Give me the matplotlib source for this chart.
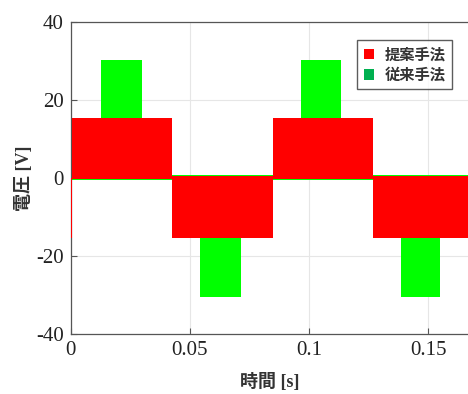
import matplotlib
matplotlib.use('Agg')
import matplotlib.pyplot as plt
from matplotlib.patches import Patch
import numpy as np

plt.rcParams['axes.unicode_minus'] = False

# ---------------- waveform segments ---------------- #
# proposed method: two-level PWM envelope per half cycle
red_t = [0.0, 0.0006, 0.0426, 0.0847, 0.1268, 0.1667]
red_lo = [-15.3, -0.3, -15.3, -0.3, -15.3]
red_hi = [0.0, 15.3, 0.4, 15.3, 0.4]

# conventional method: extra +-30 V pulses around each peak
green_t = [0.0, 0.0127, 0.0300, 0.0426, 0.0542, 0.0714, 0.0847,
           0.0965, 0.1136, 0.1268, 0.1384, 0.1548, 0.1667]
green_lo = [-0.6, -0.6, -0.6, -15.3, -30.5, -15.3,
            -0.6, -0.6, -0.6, -15.3, -30.4, -15.3]
green_hi = [15.3, 30.3, 15.3, 0.7, 0.7, 0.7,
            15.3, 30.3, 15.3, 0.7, 0.7, 0.7]

legend_labels = ['提案手法', '従来手法']

SERIF = ['Liberation Serif', 'Noto Sans CJK JP']
GOTHIC = ['Noto Sans CJK JP', 'DejaVu Sans']


def stepped(vals):
    return list(vals) + [vals[-1]]


fig = plt.figure(figsize=(4.68, 3.94), dpi=100)
ax = fig.add_axes([0.151, 0.152, 0.849, 0.793])

ax.fill_between(green_t, stepped(green_lo), stepped(green_hi), step='post',
                color='#00ff00', linewidth=0, zorder=2)
ax.fill_between(red_t, stepped(red_lo), stepped(red_hi), step='post',
                color='#ff0000', linewidth=0, zorder=3)

ax.set_xlim(0, 0.1667)
ax.set_ylim(-40, 40)
ax.set_xticks([0, 0.05, 0.1, 0.15])
ax.set_xticklabels(['0', '0.05', '0.1', '0.15'])
ax.set_yticks([-40, -20, 0, 20, 40])
ax.grid(True, color='#e6e6e6', linewidth=0.8, zorder=0)
ax.set_axisbelow(True)

for side in ['left', 'bottom', 'top']:
    ax.spines[side].set_color('#555555')
    ax.spines[side].set_linewidth(0.9)
ax.spines['right'].set_visible(False)
ax.tick_params(direction='in', length=4, color='#555555', labelsize=15,
               pad=5, labelcolor='#222222')
for lab in ax.get_xticklabels() + ax.get_yticklabels():
    lab.set_family(SERIF)

ax.set_xlabel('時間 [s]', family=SERIF, fontsize=13, fontweight='bold',
              color='#333333', labelpad=9)
ax.set_ylabel('電圧 [V]', family=SERIF, fontsize=13, fontweight='bold',
              color='#333333', labelpad=2)

handles = [Patch(facecolor='#ff0000', edgecolor='none'),
           Patch(facecolor='#00b050', edgecolor='none')]
leg = ax.legend(handles, legend_labels, loc='upper right',
                bbox_to_anchor=(0.96, 0.941), frameon=True, fancybox=False,
                edgecolor='#333333', handlelength=0.65, handleheight=0.65,
                handletextpad=0.75, borderpad=0.4, labelspacing=0.3,
                borderaxespad=0,
                prop={'family': GOTHIC, 'size': 11, 'weight': 'bold'})
leg.get_frame().set_linewidth(1.0)
for txt in leg.get_texts():
    txt.set_color('#333333')

fig.savefig('out.png', dpi=100)
